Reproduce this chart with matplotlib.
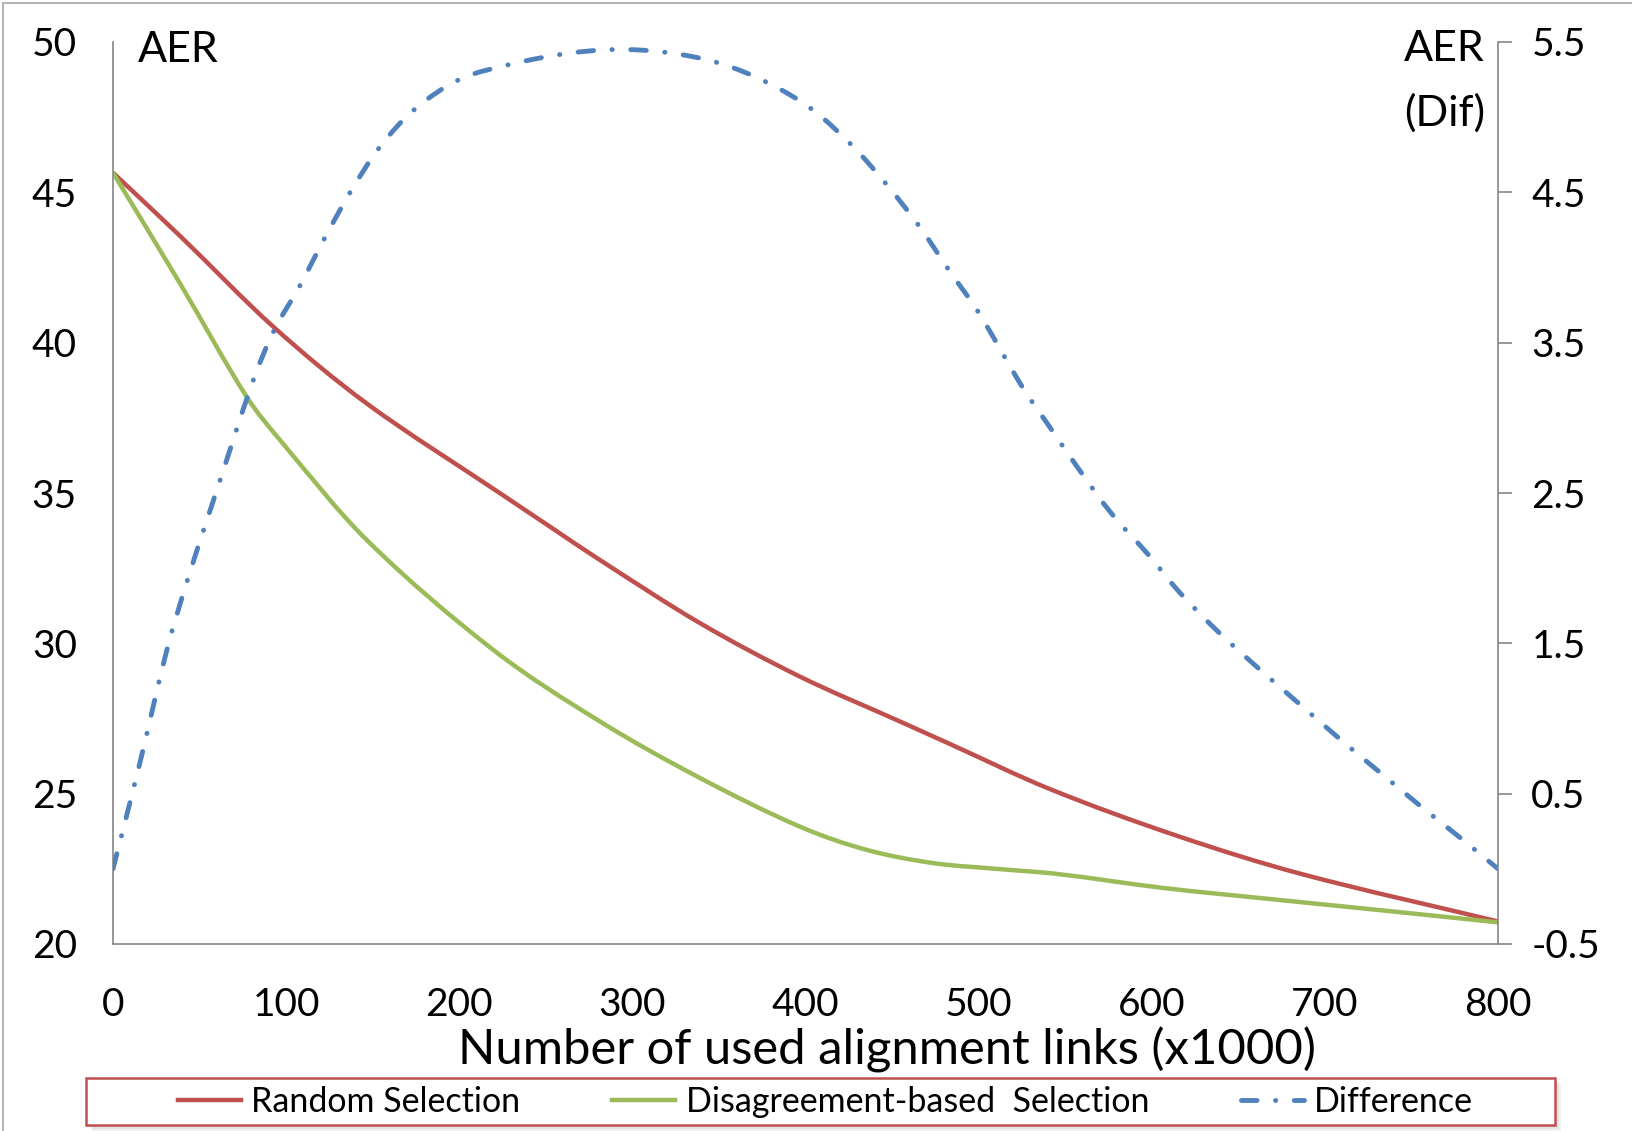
import matplotlib.pyplot as plt
from matplotlib.lines import Line2D
from matplotlib.patches import Rectangle, PathPatch
from matplotlib.path import Path

plt.rcParams['font.family'] = ['Lato', 'DejaVu Sans']
plt.rcParams['axes.unicode_minus'] = False

# values (x in thousands of links)
links_random = [0, 38.7, 92.6, 146.5, 223.6, 252.4, 281.3, 339.1, 396.9, 454.6,
                483.5, 541.3, 613.5, 685.7, 800]
aer_random = [45.65, 43.55, 40.53, 37.98, 34.99, 33.88, 32.77, 30.67, 28.89, 27.40,
              26.65, 25.15, 23.62, 22.34, 20.75]

links_disagree = [0, 38.7, 77.2, 96.5, 146.5, 219.7, 281.3, 339.1, 396.9,
                  435.4, 473.9, 512.4, 545.4, 607.3, 669.2, 731.1, 800]
aer_disagree = [45.65, 41.97, 38.2, 36.76, 33.44, 29.78, 27.40, 25.52, 23.9,
                23.13, 22.69, 22.49, 22.33, 21.86, 21.49, 21.13, 20.72]

links_diff = [0, 15, 31, 43, 62, 81, 93, 108, 122, 137, 154, 174, 200, 229, 260,
              290, 320, 350, 378, 404, 427, 447, 466, 483, 500, 525, 541, 559, 577,
              598, 616, 639, 663, 686, 709, 733, 756, 780, 800]
aer_diff = [0.0, 0.68, 1.45, 1.92, 2.59, 3.25, 3.58, 3.88, 4.19, 4.50, 4.80, 5.05,
            5.25, 5.35, 5.42, 5.45, 5.43, 5.36, 5.23, 5.05, 4.81, 4.55, 4.27, 3.98,
            3.70, 3.21, 2.94, 2.64, 2.36, 2.09, 1.84, 1.57, 1.32, 1.09, 0.86, 0.63,
            0.41, 0.19, 0.0]

x_ticks = [0, 100, 200, 300, 400, 500, 600, 700, 800]
left_ticks = [20, 25, 30, 35, 40, 45, 50]
right_ticks = [-0.5, 0.5, 1.5, 2.5, 3.5, 4.5, 5.5]
series_names = ['Random Selection', 'Disagreement-based  Selection', 'Difference']

W, H = 1633, 1131
grey = '#868686'
red = '#C0504D'
green = '#9BBB59'
blue = '#4F81BD'
blue_dash = (3.2, 3.8, 0.05, 3.8)


def smooth_path(xs, ys):
    # smoothed line like the spreadsheet draws it: cubic bezier through the points
    n = len(xs)

    def slope(i):
        a = max(i - 1, 0)
        b = min(i + 1, n - 1)
        return (ys[b] - ys[a]) / (xs[b] - xs[a])

    verts = [(xs[0], ys[0])]
    codes = [Path.MOVETO]
    for i in range(n - 1):
        h = xs[i + 1] - xs[i]
        verts.append((xs[i] + h / 3, ys[i] + slope(i) * h / 3))
        verts.append((xs[i + 1] - h / 3, ys[i + 1] - slope(i + 1) * h / 3))
        verts.append((xs[i + 1], ys[i + 1]))
        codes += [Path.CURVE4] * 3
    return Path(verts, codes)


fig = plt.figure(figsize=(W / 100, H / 100), dpi=100)

# outer chart border (only left/top visible)
fig.patches.append(Rectangle((3 / W, -0.05), 1.2, 1 - 3 / H + 0.05, transform=fig.transFigure,
                             fill=False, edgecolor='#a6a6a6', lw=1.2))

ax = fig.add_axes([113 / W, 1 - 944 / H, (1498 - 113) / W, (944 - 42) / H])
ax2 = ax.twinx()

ax.add_patch(PathPatch(smooth_path(links_random, aer_random), fill=False,
                       edgecolor=red, lw=3.2, capstyle='round'))
ax.add_patch(PathPatch(smooth_path(links_disagree, aer_disagree), fill=False,
                       edgecolor=green, lw=3.2, capstyle='round'))
ax2.add_patch(PathPatch(smooth_path(links_diff, aer_diff), fill=False,
                        edgecolor=blue, lw=3.5, linestyle=(0, blue_dash),
                        capstyle='round'))

ax.set_xlim(0, 800)
ax.set_ylim(20, 50)
ax2.set_ylim(-0.5, 5.5)

ax.set_xticks(x_ticks)
ax.set_xticklabels([str(t) for t in x_ticks])
ax.set_yticks(left_ticks)
ax.set_yticklabels([str(t) for t in left_ticks])
ax2.set_yticks(right_ticks)
ax2.set_yticklabels([f'{t:g}' for t in right_ticks])

for a in (ax, ax2):
    for s in a.spines.values():
        s.set_visible(False)
ax.spines['left'].set_visible(True)
ax.spines['bottom'].set_visible(True)
ax2.spines['right'].set_visible(True)
for s in (ax.spines['left'], ax.spines['bottom'], ax2.spines['right']):
    s.set_color(grey)
    s.set_linewidth(1.2)

ax.tick_params(axis='x', length=0, labelsize=28, pad=31)
ax.tick_params(axis='y', length=0, labelsize=28, pad=26)
ax2.tick_params(axis='y', length=10, width=1.2, color=grey, direction='out',
                labelsize=28, pad=14)

fig.text(138 / W, 1 - 50 / H, 'AER', fontsize=31, ha='left', va='center')
fig.text(1404 / W, 1 - 49 / H, 'AER', fontsize=31, ha='left', va='center')
fig.text(1404 / W, 1 - 113 / H, '(Dif)', fontsize=31, ha='left', va='center')
fig.text(887 / W, 1 - 1050 / H, 'Number of used alignment links (x1000)',
         fontsize=35.3, ha='center', va='center')

# legend box with soft shadow
bx0, by0, bx1, by1 = 86.5, 1078, 1555, 1125
for off, al in ((6, 0.10), (4, 0.12), (2, 0.15)):
    fig.patches.append(Rectangle(((bx0 + off) / W, 1 - (by1 + off) / H), (bx1 - bx0) / W,
                                 (by1 - by0) / H, transform=fig.transFigure,
                                 facecolor='#808080', edgecolor='none', alpha=al))
fig.patches.append(Rectangle((bx0 / W, 1 - by1 / H), (bx1 - bx0) / W, (by1 - by0) / H,
                             transform=fig.transFigure, facecolor='white',
                             edgecolor=red, lw=1.8))
handles = [Line2D([], [], color=red, lw=3.2),
           Line2D([], [], color=green, lw=3.2),
           Line2D([], [], color=blue, lw=3.5, dashes=blue_dash, dash_capstyle='round')]
fig.legend(handles, series_names, loc='center',
           bbox_to_anchor=((bx0 + bx1) / 2 / W + 0.003, 1 - (by0 + by1) / 2 / H),
           ncol=3, fontsize=24.5, frameon=False, handlelength=1.85, handletextpad=0.3,
           columnspacing=2.7, borderpad=0.1)

fig.savefig('out.png', dpi=100)
